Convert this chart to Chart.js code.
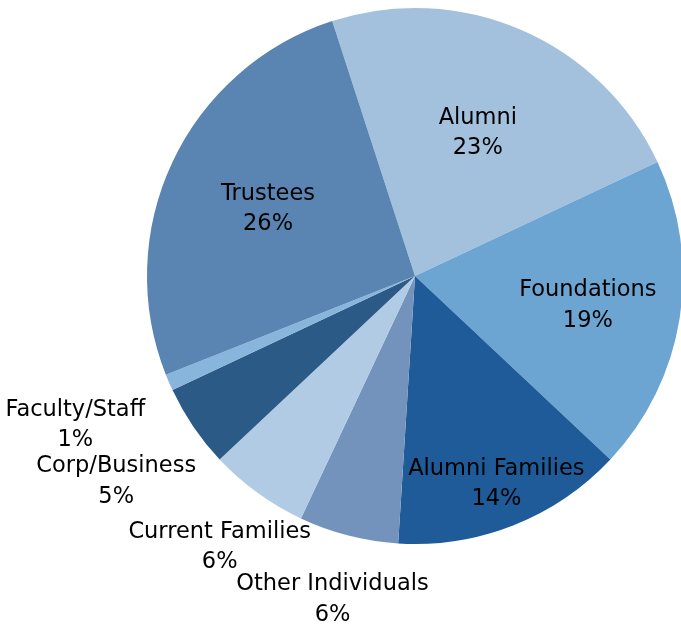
<!DOCTYPE html>
<html>
<head>
<meta charset="utf-8">
<script src="https://cdn.jsdelivr.net/npm/chart.js@4/dist/chart.umd.min.js"></script>
<style>
html,body{margin:0;padding:0;background:#fff;overflow:hidden;width:681px;height:624px;}
#wrap{position:absolute;left:0;top:0;width:700px;height:624px;}
</style>
</head>
<body>
<div id="wrap"><canvas id="c" width="700" height="624"></canvas></div>
<script>
const categories = ["Alumni","Foundations","Alumni Families","Other Individuals","Current Families","Corp/Business","Faculty/Staff","Trustees"];
const values = [23,19,14,6,6,5,1,26];
const colors = ["#A3C1DD","#6CA5D2","#1F5B98","#7493BC","#B2CBE4","#2C5A86","#87B5DC","#5A84B2"];
// label centre distance from pie centre, as a fraction of the radius
const labelRadiusFrac = [0.59,0.653,0.825,1.238,1.24,1.348,1.381,0.606];

const FONT_SIZE = 22.5;
const FONT = FONT_SIZE + 'px "DejaVu Sans"';
const LINE_H = 30.5;
const CAP_HALF = FONT_SIZE*0.729/2;

const labelPlugin = {
  id:'pieLabels',
  afterDatasetsDraw(chart){
    const ctx = chart.ctx;
    const meta = chart.getDatasetMeta(0);
    const total = values.reduce((a,b)=>a+b,0);
    ctx.save();
    ctx.font = FONT;
    ctx.fillStyle = '#000';
    ctx.textAlign = 'center';
    ctx.textBaseline = 'alphabetic';
    meta.data.forEach((arc,i)=>{
      const p = arc.getProps(['x','y','startAngle','endAngle','outerRadius'],true);
      const mid = (p.startAngle+p.endAngle)/2;
      const lines = [categories[i], Math.round(values[i]/total*100)+'%'];
      const r = p.outerRadius*labelRadiusFrac[i];
      const cx = p.x + Math.cos(mid)*r;
      const cy = p.y + Math.sin(mid)*r;
      lines.forEach((l,k)=>{
        ctx.fillText(l, cx, cy + (k-(lines.length-1)/2)*LINE_H + CAP_HALF);
      });
    });
    ctx.restore();
  }
};

new Chart(document.getElementById('c'),{
  type:'pie',
  data:{labels:categories,datasets:[{data:values,backgroundColor:colors,borderWidth:0}]},
  options:{
    responsive:false,
    animation:false,
    rotation:-18,
    layout:{padding:{left:147,top:8,right:17,bottom:80}},
    plugins:{legend:{display:false},tooltip:{enabled:false}}
  },
  plugins:[labelPlugin]
});
</script>
</body>
</html>
